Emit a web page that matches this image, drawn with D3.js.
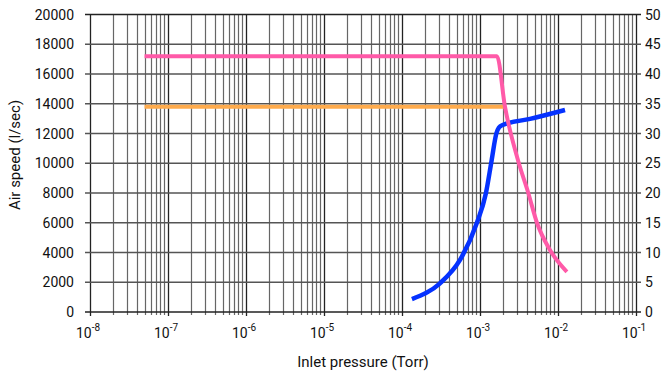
<!DOCTYPE html>
<html>
<head>
<meta charset="utf-8">
<script src="https://cdn.jsdelivr.net/npm/d3@7.9.0/dist/d3.min.js"></script>
<style>
  body { margin: 0; background: #fff; }
  svg { display: block; font-family: Roboto, "Liberation Sans", sans-serif; }
</style>
</head>
<body>
<svg id="chart" width="664" height="374"></svg>
<script>
// pressure (Torr) vs air speed (l/sec)
const pinkP = [5e-8, 1.65e-3, 2.09e-3, 3.07e-3, 4.17e-3, 5.37e-3, 7.89e-3, 1.3e-2];
const pinkS = [17200, 17200, 13800, 10200, 7980, 6000, 4170, 2700];

const orangeP = [5e-8, 2.06e-3];
const orangeS = [13800, 13800];

const blueP = [1.34e-4, 3.07e-4, 5.54e-4, 9.08e-4, 1.19e-3, 1.41e-3, 1.62e-3, 1.75e-3, 1.95e-3, 4.38e-3, 1.23e-2];
const blueS = [870, 1930, 3500, 5960, 7980, 10200, 12000, 12400, 12570, 12980, 13580];

const xExps = [-8, -7, -6, -5, -4, -3, -2, -1];
const yTicks = d3.range(0, 20001, 2000);
const y2Ticks = d3.range(0, 51, 5);

const margin = { top: 14.5, right: 28, bottom: 62, left: 90 };
const width = 664, height = 374;

const svg = d3.select('#chart');

const x = d3.scaleLog().domain([1e-8, 1e-1]).range([margin.left, width - margin.right]);
const y = d3.scaleLinear().domain([0, 20000]).range([height - margin.bottom, margin.top]);
const y2 = d3.scaleLinear().domain([0, 50]).range([height - margin.bottom, margin.top]);

// vertical grid (minor + major)
let minor = [];
for (let e = -8; e < -1; e++) {
  for (let m = 2; m <= 9; m++) minor.push(m * Math.pow(10, e));
}
const grid = svg.append('g');
grid.selectAll('.vminor').data(minor).join('line')
  .attr('x1', d => Math.round(x(d)) + 0.5).attr('x2', d => Math.round(x(d)) + 0.5)
  .attr('y1', y(20000)).attr('y2', y(0) + 3)
  .attr('stroke', '#666').attr('stroke-width', 1.2);
grid.selectAll('.vmajor').data(xExps.map(e => Math.pow(10, e))).join('line')
  .attr('x1', d => Math.round(x(d)) + 0.5).attr('x2', d => Math.round(x(d)) + 0.5)
  .attr('y1', y(20000)).attr('y2', y(0) + 4)
  .attr('stroke', '#222').attr('stroke-width', 1.3);

// horizontal grid
grid.selectAll('.h').data(yTicks).join('line')
  .attr('x1', margin.left - 5).attr('x2', width - margin.right + 5)
  .attr('y1', d => y(d)).attr('y2', d => y(d))
  .attr('stroke', d => d === 0 || d === 20000 ? '#222' : '#555')
  .attr('stroke-width', 1.3);

// left axis labels
svg.append('g').selectAll('text').data(yTicks).join('text')
  .attr('x', 74).attr('y', d => y(d) + 5)
  .attr('text-anchor', 'end')
  .attr('font-size', 14).attr('fill', '#111')
  .text(d => d);

// right axis labels
svg.append('g').selectAll('text').data(y2Ticks).join('text')
  .attr('x', 645).attr('y', d => y2(d) + 5)
  .attr('font-size', 14).attr('fill', '#111')
  .text(d => d);

// x labels: 10^n
const xl = svg.append('g').selectAll('text').data(xExps).join('text')
  .attr('x', d => x(Math.pow(10, d)) - 2)
  .attr('y', 338)
  .attr('text-anchor', 'middle')
  .attr('font-size', 14).attr('fill', '#111');
xl.append('tspan').text('10');
xl.append('tspan').attr('dy', -7).attr('font-size', 10).text(d => d);

// axis titles
svg.append('text')
  .attr('x', 363).attr('y', 367)
  .attr('text-anchor', 'middle').attr('font-size', 15).attr('fill', '#111')
  .text('Inlet pressure (Torr)');
svg.append('text')
  .attr('transform', 'translate(20,155) rotate(-90)')
  .attr('text-anchor', 'middle').attr('font-size', 15).attr('fill', '#111')
  .text('Air speed (l/sec)');

// curves
const line = d3.line().x(d => x(d[0])).y(d => y(d[1])).curve(d3.curveMonotoneX);

svg.append('path')
  .attr('d', line(d3.zip(orangeP, orangeS)))
  .attr('fill', 'none').attr('stroke', '#ffab4c').attr('stroke-width', 4);

svg.append('path')
  .attr('d', line(d3.zip(blueP, blueS)))
  .attr('fill', 'none').attr('stroke', '#0532ff').attr('stroke-width', 4.5);

svg.append('path')
  .attr('d', line(d3.zip(pinkP, pinkS)))
  .attr('fill', 'none').attr('stroke', '#ff5aa8').attr('stroke-width', 4);
</script>
</body>
</html>
